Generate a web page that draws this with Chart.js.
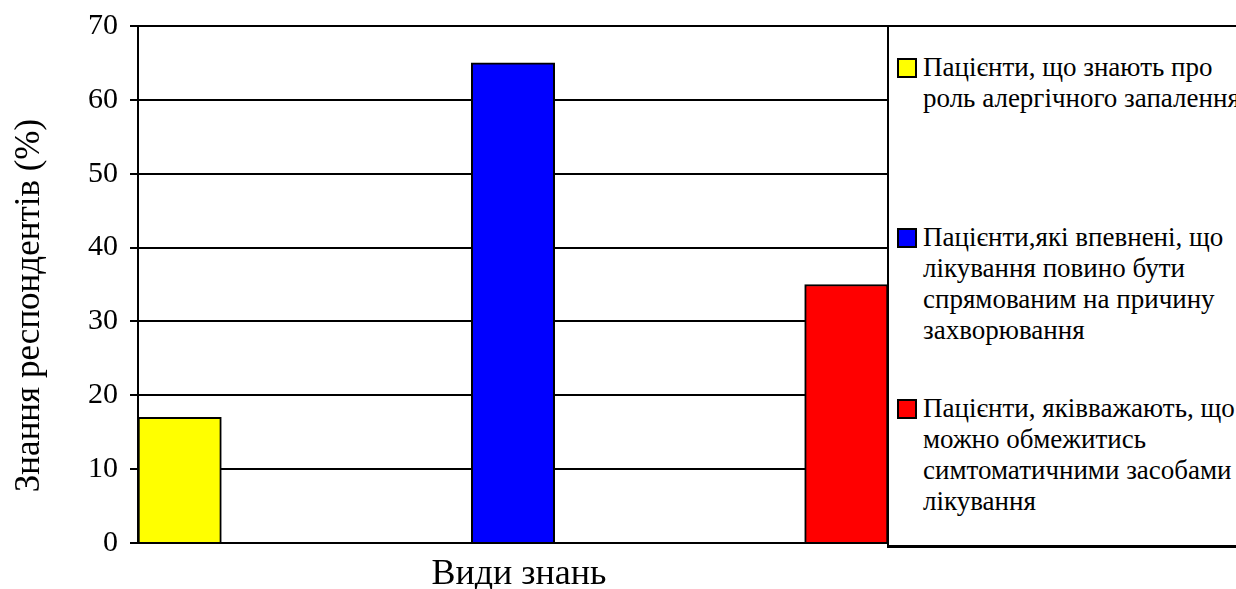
<!DOCTYPE html>
<html>
<head>
<meta charset="utf-8">
<title>Знання респондентів</title>
<script src="https://cdn.jsdelivr.net/npm/chart.js@4/dist/chart.umd.min.js"></script>
<style>
  html, body { margin: 0; padding: 0; background: #fff; }
  #wrap { position: relative; width: 1236px; height: 589px; overflow: hidden; }
  #chart { position: absolute; left: 0; top: 0; }
  #legend {
    position: absolute; left: 887px; top: 25px; width: 380px; height: 518px;
    border: 2px solid #000; border-bottom-width: 3px; background: #fff;
    font-family: Tinos, 'Times New Roman', 'Liberation Serif', serif;
    font-size: 27px; line-height: 31px; color: #000;
  }
  .item { position: absolute; left: 0; }
  .swatch { position: absolute; left: 8px; top: 0; width: 16px; height: 16px; border: 2px solid #000; }
  .text { position: absolute; left: 34px; top: -6px; white-space: nowrap; }
</style>
</head>
<body>
<div id="wrap">
  <canvas id="chart" width="1236" height="589"></canvas>
  <div id="legend"></div>
</div>
<script>
// Groups of patients (one bar each), as worded in the legend
const groupLabels = [
  ["Пацієнти, що знають про", "роль алергічного запалення"],
  ["Пацієнти,які впевнені, що", "лікування повино бути", "спрямованим на причину", "захворювання"],
  ["Пацієнти, яківважають, що", "можно обмежитись", "симтоматичними засобами", "лікування"]
];
// Share of respondents, %
const shares = [17, 65, 35];
const barColors = ["#FFFF00", "#0000FF", "#FF0000"];
const yTicks = [0, 10, 20, 30, 40, 50, 60, 70];
const yTitle = "Знання респондентів (%)";
const xTitle = "Види знань";

const FONT = "Tinos, 'Times New Roman', 'Liberation Serif', serif";
Chart.defaults.font.family = FONT;

// Legend box laid over the right side of the plot
const legendEl = document.getElementById('legend');
const itemTops = [31, 201, 372];
groupLabels.forEach((lines, i) => {
  const item = document.createElement('div');
  item.className = 'item';
  item.style.top = itemTops[i] + 'px';
  const sw = document.createElement('div');
  sw.className = 'swatch';
  sw.style.background = barColors[i];
  const tx = document.createElement('div');
  tx.className = 'text';
  tx.innerHTML = lines.join('<br>');
  item.appendChild(sw);
  item.appendChild(tx);
  legendEl.appendChild(item);
});

// bars sit at the start, middle and end of the axis
const points = shares.map((v, i) => ({ x: i * 4 + 0.5, y: v }));

// axis titles, placed by hand next to the plot
const titlesPlugin = {
  id: 'axisTitles',
  afterDraw(chart) {
    const { ctx, chartArea } = chart;
    ctx.save();
    ctx.fillStyle = '#000';
    ctx.textAlign = 'center';
    ctx.textBaseline = 'middle';
    ctx.font = '35px ' + FONT;
    ctx.translate(30, (chartArea.top + chartArea.bottom) / 2 + 21);
    ctx.rotate(-Math.PI / 2);
    ctx.fillText(yTitle, 0, 0);
    ctx.restore();
    ctx.save();
    ctx.fillStyle = '#000';
    ctx.textAlign = 'center';
    ctx.textBaseline = 'middle';
    ctx.font = '36px ' + FONT;
    ctx.fillText(xTitle, (chartArea.left + chartArea.right) / 2 + 6, 575);
    ctx.restore();
  }
};

const chart = new Chart(document.getElementById('chart'), {
  type: 'bar',
  data: {
    datasets: [{
      data: points,
      backgroundColor: barColors,
      borderColor: '#000',
      borderWidth: 2,
      categoryPercentage: 1,
      barPercentage: 1
    }]
  },
  options: {
    responsive: false,
    animation: false,
    layout: { padding: { top: 26, right: 348, left: 0, bottom: 0 } },
    plugins: { legend: { display: false }, tooltip: { enabled: false } },
    scales: {
      x: {
        type: 'linear',
        min: 0,
        max: 9,
        offset: false,
        ticks: { display: false, stepSize: 1 },
        grid: { display: false, offset: false },
        border: { display: false },
        afterFit(scale) { scale.height = 46; }
      },
      y: {
        min: 0,
        max: 70,
        afterBuildTicks(scale) { scale.ticks = yTicks.map(v => ({ value: v })); },
        ticks: { color: '#000', padding: 12, font: { size: 30 } },
        grid: { color: '#000', lineWidth: 2, tickLength: 8, drawTicks: true },
        border: { color: '#000', width: 2 },
        afterFit(scale) {
          scale.width = 138;
          scale.paddingTop = 0;
          scale.paddingBottom = 0;
        }
      }
    }
  },
  plugins: [titlesPlugin]
});

// redraw once the serif faces are ready
if (document.fonts && document.fonts.ready) {
  document.fonts.ready.then(() => chart.update('none'));
}
</script>
</body>
</html>
